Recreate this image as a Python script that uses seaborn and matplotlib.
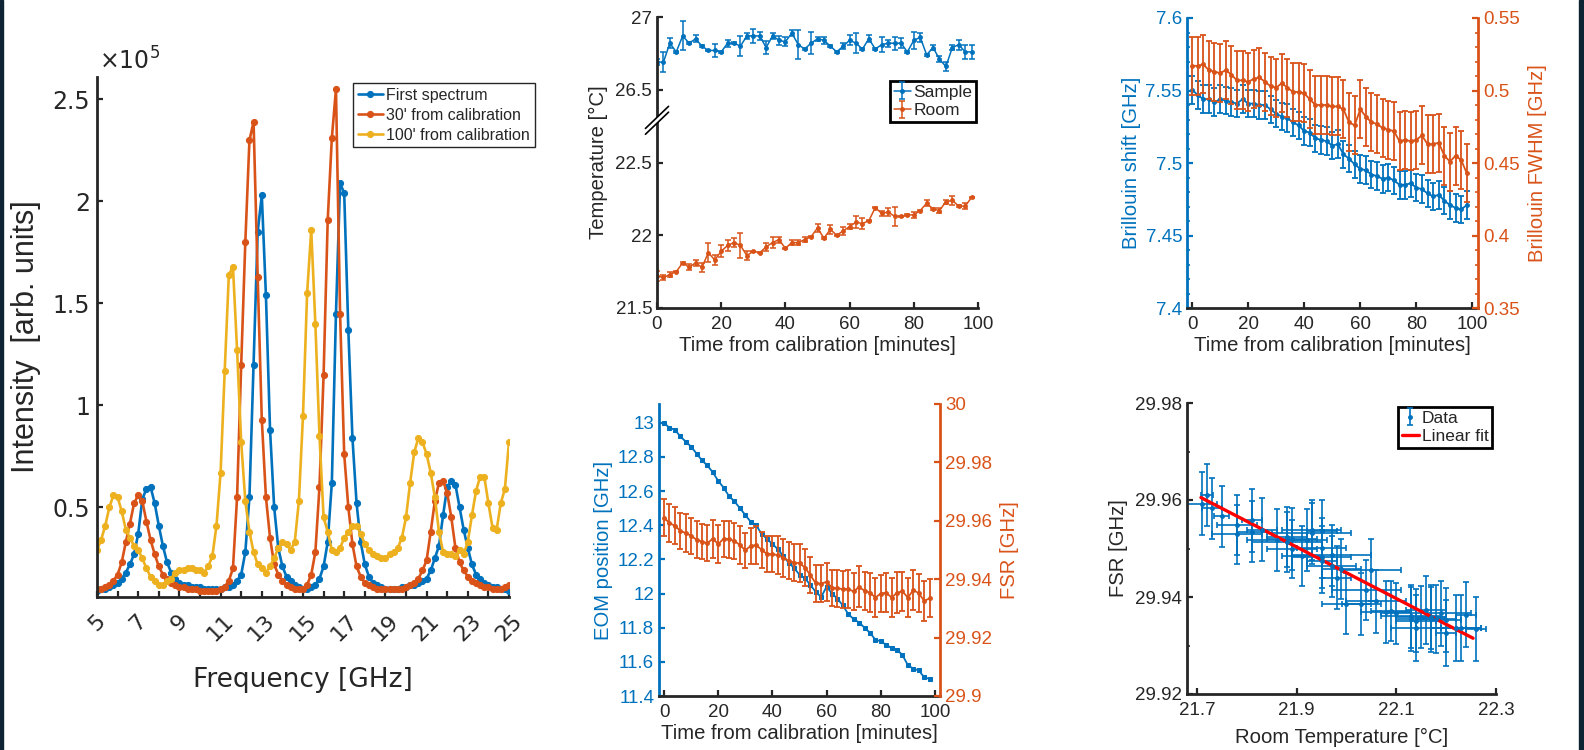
import numpy as np
import pandas as pd
import matplotlib
matplotlib.use('Agg')
import matplotlib.pyplot as plt
import seaborn as sns
from matplotlib.ticker import FuncFormatter, MultipleLocator
from matplotlib.patches import Polygon, Rectangle

BLUE = '#0072BD'
ORANGE = '#D95319'
YELLOW = '#EDB120'
DARK = '#262626'

# ---- spectra (intensity in units of 1e5), sampled every 0.2 GHz ----
freq_ghz = np.round(np.arange(5.0, 25.01, 0.2), 1)
spec_first = [0.09, 0.10, 0.10, 0.11, 0.12, 0.13, 0.15, 0.18, 0.22, 0.27,
              0.37, 0.54, 0.59, 0.60, 0.52, 0.41, 0.31, 0.23, 0.18, 0.15,
              0.13, 0.12, 0.12, 0.11, 0.11, 0.11, 0.10, 0.10, 0.10, 0.10,
              0.10, 0.11, 0.11, 0.12, 0.14, 0.17, 0.28, 0.55, 1.20, 1.85,
              2.03, 1.54, 0.88, 0.50, 0.30, 0.21, 0.16, 0.14, 0.12, 0.11,
              0.10, 0.10, 0.11, 0.12, 0.15, 0.21, 0.33, 0.62, 1.45, 2.09,
              2.04, 1.37, 0.84, 0.52, 0.33, 0.22, 0.16, 0.13, 0.12, 0.11,
              0.10, 0.10, 0.10, 0.10, 0.11, 0.11, 0.12, 0.12, 0.13, 0.14,
              0.15, 0.19, 0.25, 0.31, 0.46, 0.60, 0.63, 0.61, 0.50, 0.39,
              0.30, 0.22, 0.17, 0.15, 0.13, 0.12, 0.11, 0.11, 0.10, 0.10,
              0.09]
spec_30min = [0.10, 0.10, 0.11, 0.12, 0.14, 0.17, 0.23, 0.33, 0.42, 0.52,
              0.56, 0.53, 0.43, 0.34, 0.27, 0.21, 0.17, 0.15, 0.13, 0.12,
              0.11, 0.11, 0.10, 0.10, 0.10, 0.09, 0.09, 0.09, 0.09, 0.09,
              0.10, 0.11, 0.14, 0.20, 0.55, 1.20, 1.80, 2.30, 2.39, 1.63,
              0.93, 0.55, 0.35, 0.22, 0.17, 0.14, 0.12, 0.11, 0.10, 0.10,
              0.10, 0.12, 0.17, 0.28, 0.60, 1.15, 1.91, 2.31, 2.55, 1.45,
              0.76, 0.50, 0.32, 0.21, 0.16, 0.13, 0.12, 0.11, 0.10, 0.10,
              0.10, 0.10, 0.10, 0.10, 0.10, 0.11, 0.12, 0.13, 0.15, 0.19,
              0.24, 0.38, 0.53, 0.62, 0.63, 0.57, 0.45, 0.30, 0.23, 0.19,
              0.16, 0.14, 0.13, 0.12, 0.11, 0.11, 0.10, 0.10, 0.10, 0.11,
              0.12]
spec_100min = [0.29, 0.34, 0.41, 0.50, 0.56, 0.55, 0.48, 0.39, 0.35, 0.31,
               0.29, 0.25, 0.20, 0.16, 0.14, 0.12, 0.12, 0.14, 0.15, 0.18,
               0.19, 0.19, 0.20, 0.20, 0.19, 0.19, 0.18, 0.21, 0.26, 0.41,
               0.67, 1.17, 1.64, 1.68, 1.27, 0.82, 0.53, 0.38, 0.28, 0.22,
               0.20, 0.18, 0.21, 0.25, 0.30, 0.33, 0.32, 0.29, 0.33, 0.53,
               0.95, 1.55, 1.86, 1.40, 0.85, 0.45, 0.38, 0.29, 0.28, 0.30,
               0.35, 0.38, 0.41, 0.41, 0.37, 0.32, 0.29, 0.27, 0.26, 0.25,
               0.25, 0.27, 0.28, 0.30, 0.35, 0.45, 0.62, 0.77, 0.84, 0.82,
               0.76, 0.67, 0.55, 0.38, 0.28, 0.27, 0.27, 0.26, 0.29, 0.27,
               0.33, 0.46, 0.58, 0.65, 0.65, 0.52, 0.40, 0.39, 0.52, 0.59,
               0.82]

# ---- time series, one point every 2 minutes ----
time_min = np.arange(0, 100, 2)
temp_sample = [26.69, 26.69, 26.82, 26.76, 26.87, 26.82, 26.85, 26.80, 26.77, 26.77,
               26.76, 26.82, 26.82, 26.80, 26.87, 26.87, 26.87, 26.79, 26.87, 26.84,
               26.83, 26.89, 26.81, 26.78, 26.82, 26.85, 26.84, 26.80, 26.76, 26.80,
               26.84, 26.82, 26.78, 26.85, 26.78, 26.81, 26.82, 26.82, 26.82, 26.76,
               26.84, 26.86, 26.74, 26.79, 26.71, 26.66, 26.79, 26.81, 26.76, 26.76]
temp_sample_err = [0.02, 0.07, 0.035, 0.005, 0.10, 0.005, 0.025, 0.005, 0.005, 0.045,
                   0.005, 0.025, 0.005, 0.07, 0.02, 0.05, 0.03, 0.045, 0.02, 0.03,
                   0.03, 0.02, 0.10, 0.01, 0.075, 0.015, 0.025, 0.005, 0.005, 0.02,
                   0.035, 0.07, 0.005, 0.025, 0.005, 0.05, 0.025, 0.045, 0.035, 0.005,
                   0.06, 0.03, 0.005, 0.02, 0.02, 0.03, 0.02, 0.035, 0.05, 0.05]
temp_room = [21.72, 21.71, 21.73, 21.75, 21.81, 21.78, 21.81, 21.78, 21.88, 21.83,
             21.89, 21.93, 21.95, 21.93, 21.86, 21.89, 21.88, 21.92, 21.95, 21.97,
             21.91, 21.95, 21.95, 21.97, 21.99, 22.05, 21.98, 22.04, 22.00, 22.03,
             22.06, 22.09, 22.08, 22.10, 22.19, 22.15, 22.16, 22.13, 22.13, 22.14,
             22.14, 22.17, 22.22, 22.18, 22.17, 22.23, 22.24, 22.20, 22.20, 22.26]
temp_room_err = [0.035, 0.02, 0.015, 0.005, 0.005, 0.02, 0.02, 0.03, 0.065, 0.035,
                 0.04, 0.04, 0.03, 0.085, 0.03, 0.005, 0.005, 0.03, 0.035, 0.02,
                 0.005, 0.02, 0.02, 0.015, 0.005, 0.03, 0.005, 0.03, 0.005, 0.03,
                 0.02, 0.04, 0.04, 0.005, 0.005, 0.02, 0.025, 0.065, 0.005, 0.005,
                 0.02, 0.005, 0.02, 0.005, 0.015, 0.015, 0.03, 0.005, 0.02, 0.005]

bril_shift = [7.5505, 7.547, 7.544, 7.544, 7.542, 7.544, 7.543, 7.542, 7.541, 7.544,
              7.541, 7.541, 7.540, 7.540, 7.537, 7.534, 7.532, 7.531, 7.528, 7.526,
              7.522, 7.521, 7.517, 7.516, 7.515, 7.512, 7.513, 7.506, 7.503, 7.499,
              7.496, 7.495, 7.492, 7.491, 7.489, 7.490, 7.488, 7.485, 7.485, 7.486,
              7.483, 7.482, 7.479, 7.477, 7.478, 7.474, 7.471, 7.469, 7.468, 7.471]
shift_err = 0.0095
bril_fwhm = [0.517, 0.517, 0.518, 0.514, 0.513, 0.512, 0.514, 0.511, 0.507, 0.507,
             0.506, 0.508, 0.509, 0.506, 0.503, 0.502, 0.505, 0.502, 0.499, 0.499,
             0.498, 0.494, 0.490, 0.490, 0.490, 0.489, 0.489, 0.487, 0.478, 0.476,
             0.487, 0.482, 0.478, 0.477, 0.474, 0.473, 0.472, 0.465, 0.466, 0.465,
             0.466, 0.469, 0.463, 0.463, 0.464, 0.455, 0.451, 0.455, 0.452, 0.443]
fwhm_err = 0.02

eom_pos = [13.00, 12.97, 12.96, 12.92, 12.89, 12.86, 12.82, 12.78, 12.75, 12.71,
           12.66, 12.62, 12.57, 12.54, 12.50, 12.46, 12.42, 12.40, 12.35, 12.32,
           12.29, 12.26, 12.22, 12.18, 12.15, 12.11, 12.09, 12.05, 12.01, 11.98,
           12.04, 12.00, 11.97, 11.93, 11.88, 11.85, 11.83, 11.80, 11.77, 11.73,
           11.72, 11.70, 11.68, 11.67, 11.64, 11.58, 11.56, 11.55, 11.51, 11.50]
fsr = [29.9611, 29.9592, 29.9583, 29.9566, 29.9558, 29.9549, 29.9535, 29.9529, 29.9523, 29.9539,
       29.9520, 29.9539, 29.9537, 29.9531, 29.9517, 29.9499, 29.9514, 29.9517, 29.9501, 29.9486,
       29.9485, 29.9483, 29.9474, 29.9463, 29.9457, 29.9455, 29.9440, 29.9414, 29.9386, 29.9385,
       29.9391, 29.9371, 29.9369, 29.9366, 29.9366, 29.9358, 29.9374, 29.9360, 29.9354, 29.9337,
       29.9351, 29.9354, 29.9337, 29.9354, 29.9358, 29.9337, 29.9363, 29.9352, 29.9326, 29.9334]
fsr_err = [0.0064, 0.0065, 0.0063, 0.0062, 0.0065, 0.0062, 0.0063, 0.0060, 0.0062, 0.0065,
           0.0064, 0.0062, 0.0063, 0.0062, 0.0064, 0.0060, 0.0062, 0.0064, 0.0062, 0.0063,
           0.0062, 0.0064, 0.0065, 0.0063, 0.0062, 0.0064, 0.0065, 0.0062, 0.0063, 0.0064,
           0.0065, 0.0062, 0.0064, 0.0063, 0.0066, 0.0064, 0.0070, 0.0065, 0.0066, 0.0068,
           0.0065, 0.0067, 0.0068, 0.0070, 0.0066, 0.0068, 0.0067, 0.0066, 0.0068, 0.0065]
room_xerr = [0.012, 0.03, 0.02, 0.015, 0.02, 0.04, 0.03, 0.05, 0.04, 0.03,
             0.05, 0.06, 0.03, 0.08, 0.06, 0.05, 0.07, 0.04, 0.05, 0.08,
             0.04, 0.06, 0.03, 0.05, 0.04, 0.06, 0.03, 0.07, 0.05, 0.04,
             0.06, 0.04, 0.05, 0.03, 0.06, 0.05, 0.04, 0.06, 0.03, 0.05,
             0.04, 0.03, 0.05, 0.04, 0.03, 0.04, 0.02, 0.03, 0.02, 0.02]
fit_x = [21.708, 22.254]
fit_y = [29.9605, 29.9315]

# ---- style ----
sns.set_theme(style='ticks')
plt.rcParams['font.family'] = ['Liberation Sans', 'DejaVu Sans']
plt.rcParams.update({
    'axes.edgecolor': DARK, 'axes.labelcolor': DARK, 'text.color': DARK,
    'xtick.color': DARK, 'ytick.color': DARK,
    'xtick.direction': 'in', 'ytick.direction': 'in',
    'axes.linewidth': 2.0, 'xtick.major.width': 1.6, 'ytick.major.width': 1.6,
    'xtick.major.size': 4, 'ytick.major.size': 4,
    'xtick.minor.size': 2.5, 'ytick.minor.size': 2.5,
    'xtick.minor.width': 1.2, 'ytick.minor.width': 1.2,
    'legend.fancybox': False, 'legend.framealpha': 1.0,
})
gfmt = FuncFormatter(lambda v, p: '%g' % round(v, 6))
TICK = 13.5
LAB = 14.6

fig = plt.figure(figsize=(15.84, 7.5), dpi=100)
W, H = 1584.0, 750.0


def px_axes(left, top, right, bottom):
    return fig.add_axes([left / W, 1 - bottom / H, (right - left) / W, (bottom - top) / H])


def clean(ax):
    ax.spines['top'].set_visible(False)
    ax.spines['right'].set_visible(False)


# ================= Panel 1: spectra =================
ax1 = px_axes(97, 77, 509, 597)
clean(ax1)
spectra = pd.DataFrame({'f': freq_ghz, 'first': spec_first, 'm30': spec_30min, 'm100': spec_100min})
for col, c, lab in [('first', BLUE, 'First spectrum'), ('m30', ORANGE, "30' from calibration"),
                    ('m100', YELLOW, "100' from calibration")]:
    sns.lineplot(data=spectra, x='f', y=col, ax=ax1, color=c, marker='o', markersize=4.4,
                 markeredgecolor=c, linewidth=1.9, label=lab, sort=False)
ax1.set_xlim(5, 25)
ax1.set_ylim(0.06, 2.61)
ax1.set_xticks(np.arange(5, 26, 1))
ax1.set_xticklabels([str(v) if v % 2 == 1 else '' for v in range(5, 26)],
                    rotation=45, ha='center', va='top', fontfamily='DejaVu Sans', fontsize=16)
ax1.set_yticks([0.5, 1, 1.5, 2, 2.5])
ax1.yaxis.set_major_formatter(gfmt)
ax1.tick_params(axis='y', labelsize=17, pad=5)
ax1.tick_params(axis='x', pad=10)
for t in ax1.get_yticklabels():
    t.set_fontfamily('DejaVu Sans')
ax1.set_xlabel('Frequency [GHz]', fontsize=19, fontfamily='DejaVu Sans', labelpad=16)
ax1.set_ylabel('Intensity  [arb. units]', fontsize=22, labelpad=8)
ax1.text(0.005, 1.004, r'$\times\mathregular{10^{5}}$', transform=ax1.transAxes,
         fontsize=17, ha='left', va='bottom', fontfamily='DejaVu Sans')
leg1 = ax1.legend(loc='upper right', bbox_to_anchor=(1.063, 0.988), fontsize=11.5,
                  handlelength=1.6, handletextpad=0.2, labelspacing=0.3,
                  borderpad=0.3, borderaxespad=0, edgecolor=DARK)
leg1.get_frame().set_linewidth(1.0)

# ================= Panel 2: temperatures with broken axis =================
ax2 = px_axes(657, 17, 978, 308)
clean(ax2)
shift = 3.5
ebkw = dict(fmt='-', marker='.', markersize=5, linewidth=1.1, elinewidth=1.1, capsize=2, capthick=1.1)
ax2.errorbar(time_min, np.array(temp_sample) - shift, yerr=temp_sample_err, color=BLUE, label='Sample', **ebkw)
ax2.errorbar(time_min, temp_room, yerr=temp_room_err, color=ORANGE, label='Room', **ebkw)
ax2.set_xticks(np.arange(0, 101, 20))
ax2.set_yticks([21.5, 22, 22.5, 23, 23.5])
ax2.set_yticklabels(['21.5', '22', '22.5', '26.5', '27'])
ax2.tick_params(labelsize=TICK)
ax2.tick_params(axis='x', pad=6)
ax2.set_xlabel('Time from calibration [minutes]', fontsize=LAB, labelpad=2)
ax2.set_ylabel('Temperature [°C]', fontsize=LAB, labelpad=5)
yb = (22.77 - 21.5) / 2.0
dx, dy, gap = 0.036, 0.038, 0.02
ax2.add_patch(Polygon([(-dx, yb - dy), (dx, yb + dy), (dx, yb + dy + gap), (-dx, yb - dy + gap)],
                      closed=True, facecolor='white', edgecolor='none', zorder=5,
                      transform=ax2.transAxes, clip_on=False))
for off in (0, gap):
    ax2.plot([-dx, dx], [yb - dy + off, yb + dy + off], color='black', lw=1.2, zorder=6,
             transform=ax2.transAxes, clip_on=False)
ax2.set_xlim(0, 100)
ax2.set_ylim(21.5, 23.5)
leg2 = ax2.legend(loc='upper right', bbox_to_anchor=(0.994, 0.78), fontsize=12.5,
                  handlelength=1.0, handletextpad=0.15, labelspacing=0.2,
                  borderpad=0.2, borderaxespad=0, edgecolor='black')
leg2.get_frame().set_linewidth(2.0)

# ================= Panel 3: Brillouin shift & FWHM =================
ax3 = px_axes(1187, 18, 1478, 308)
clean(ax3)
ebkw3 = dict(fmt='-', marker='.', markersize=5, linewidth=1.3, elinewidth=1.3, capsize=2, capthick=1.3)
ax3.errorbar(time_min, bril_shift, yerr=shift_err, color=BLUE, **ebkw3)
ax3.set_xlim(-1.8, 102)
ax3.set_ylim(7.4, 7.6)
ax3.set_xticks(np.arange(0, 101, 20))
ax3.set_yticks([7.4, 7.45, 7.5, 7.55, 7.6])
ax3.yaxis.set_major_formatter(gfmt)
ax3.yaxis.set_minor_locator(MultipleLocator(0.01))
ax3.spines['left'].set_color(BLUE)
ax3.tick_params(axis='y', which='both', colors=BLUE, labelsize=TICK)
ax3.tick_params(axis='x', labelsize=TICK, pad=6)
ax3.set_ylabel('Brillouin shift [GHz]', fontsize=LAB, color=BLUE, labelpad=3)
ax3.set_xlabel('Time from calibration [minutes]', fontsize=LAB, labelpad=2)
ax3r = ax3.twinx()
for s in ['top', 'left', 'bottom']:
    ax3r.spines[s].set_visible(False)
ax3r.spines['right'].set_color(ORANGE)
ax3r.spines['right'].set_linewidth(2.0)
ax3r.errorbar(time_min, bril_fwhm, yerr=fwhm_err, color=ORANGE, **ebkw3)
ax3r.set_ylim(0.35, 0.55)
ax3r.set_yticks([0.35, 0.4, 0.45, 0.5, 0.55])
ax3r.yaxis.set_major_formatter(gfmt)
ax3r.yaxis.set_minor_locator(MultipleLocator(0.01))
ax3r.tick_params(axis='y', which='both', colors=ORANGE, labelsize=TICK, direction='in')
ax3r.set_ylabel('Brillouin FWHM [GHz]', fontsize=LAB, color=ORANGE, labelpad=6)

# ================= Panel 4: EOM position & FSR =================
ax4 = px_axes(659, 404, 940, 696)
clean(ax4)
eom_df = pd.DataFrame({'t': time_min, 'eom': eom_pos})
sns.lineplot(data=eom_df, x='t', y='eom', ax=ax4, color=BLUE, marker='s', markersize=3.2,
             markeredgecolor=BLUE, linewidth=1.3)
ax4.set_xlim(-1.85, 101.85)
ax4.set_ylim(11.4, 13.11)
ax4.set_xticks(np.arange(0, 101, 20))
ax4.set_yticks(np.arange(11.4, 13.01, 0.2))
ax4.yaxis.set_major_formatter(gfmt)
ax4.spines['left'].set_color(BLUE)
ax4.tick_params(axis='y', colors=BLUE, labelsize=TICK)
ax4.tick_params(axis='x', labelsize=TICK, pad=6)
ax4.set_ylabel('EOM position [GHz]', fontsize=LAB, color=BLUE, labelpad=3)
ax4.set_xlabel('Time from calibration [minutes]', fontsize=LAB, labelpad=2)
ax4r = ax4.twinx()
for s in ['top', 'left', 'bottom']:
    ax4r.spines[s].set_visible(False)
ax4r.spines['right'].set_color(ORANGE)
ax4r.spines['right'].set_linewidth(2.0)
ax4r.errorbar(time_min, fsr, yerr=fsr_err, color=ORANGE, **ebkw3)
ax4r.set_ylim(29.9, 30.0)
ax4r.set_yticks(np.arange(29.9, 30.001, 0.02))
ax4r.yaxis.set_major_formatter(gfmt)
ax4r.tick_params(axis='y', colors=ORANGE, labelsize=TICK, direction='in')
ax4r.set_ylabel('FSR [GHz]', fontsize=LAB, color=ORANGE, labelpad=6)

# ================= Panel 5: FSR vs room temperature =================
ax5 = px_axes(1187, 403, 1496, 694)
clean(ax5)
ax5.errorbar(temp_room, fsr, yerr=fsr_err, xerr=room_xerr, fmt='.', color=BLUE, markersize=5,
             elinewidth=1.2, capsize=2, capthick=1.2, label='_nolegend_')
h_fit, = ax5.plot(fit_x, fit_y, color='red', linewidth=2.4)
h_data = ax5.errorbar([np.nan], [np.nan], yerr=[0.001], fmt='.', color=BLUE, markersize=5,
                      elinewidth=1.2, capsize=2, capthick=1.2)
ax5.set_xlim(21.68, 22.3)
ax5.set_ylim(29.92, 29.98)
ax5.set_xticks([21.7, 21.9, 22.1, 22.3])
ax5.set_yticks([29.92, 29.94, 29.96, 29.98])
ax5.yaxis.set_minor_locator(MultipleLocator(0.01))
ax5.xaxis.set_major_formatter(gfmt)
ax5.yaxis.set_major_formatter(gfmt)
ax5.tick_params(labelsize=TICK)
ax5.tick_params(axis='x', pad=6)
ax5.set_xlabel('Room Temperature [°C]', fontsize=LAB, labelpad=6)
ax5.set_ylabel('FSR [GHz]', fontsize=LAB, labelpad=5)
leg5 = ax5.legend(handles=[h_data, h_fit], labels=['Data', 'Linear fit'], loc='upper right',
                  bbox_to_anchor=(0.987, 0.986), fontsize=12.5, handlelength=1.0,
                  handletextpad=0.15, labelspacing=0.2, borderpad=0.2, borderaxespad=0,
                  edgecolor='black')
leg5.get_frame().set_linewidth(2.0)

# dark frame strips at the image edges
fig.patches.append(Rectangle((0, 0), 3 / W, 1, transform=fig.transFigure, color='#0e2435', zorder=0))
fig.patches.append(Rectangle((1579 / W, 0), 5 / W, 1, transform=fig.transFigure, color='#0e2435', zorder=0))

fig.savefig('out.png', dpi=100)
